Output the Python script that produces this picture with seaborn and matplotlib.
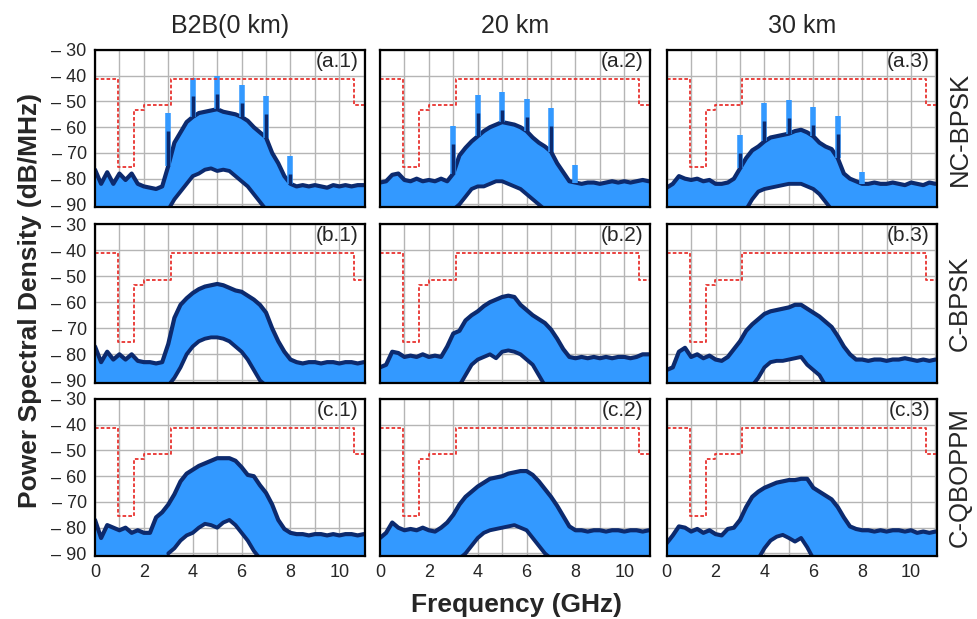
import numpy as np
import matplotlib
matplotlib.use("Agg")
import matplotlib.pyplot as plt
import seaborn as sns

sns.set_style("white")
plt.rcParams['font.family'] = ['Liberation Sans', 'DejaVu Sans']

LIGHT = '#3399ff'
NAVY = '#0c2a6e'
MASK_RED = '#e8332f'
FLOOR = -92

# frequency grid of the traces (GHz), 0.25 GHz steps
FREQ = np.arange(0, 11.01, 0.25)

# FCC indoor UWB mask
MASK_F = [0, 0.96, 1.61, 1.99, 3.1, 10.6, 11.05]
MASK_DB = [-41.3, -75.3, -53.5, -51.5, -41.3, -51.5, -51.5]

# upper envelopes (dB/MHz), one value per FREQ point
A1 = [-76.5, -82, -77.5, -82, -78, -80.5, -78, -82, -83, -83.5, -84, -83,
      -75, -66, -62, -58, -56, -54.5, -54, -53.5, -53, -54, -54.5, -55,
      -56, -57.5, -60, -62, -64, -70, -74, -79, -82, -83, -82.5, -83,
      -82.5, -83, -83.5, -82.5, -83, -82.5, -83, -82.5, -82.5]
A2 = [-81.5, -81, -78.5, -78, -80.5, -81, -80, -81, -80.5, -81, -80, -81,
      -78, -71, -68, -65.5, -63.5, -61.5, -60, -59, -58, -58.5, -59, -60,
      -61.5, -64, -66, -67.5, -69.5, -74, -77.5, -81, -81.5, -82, -81.5, -81.5,
      -82, -81.5, -81, -81.5, -81, -81.5, -81, -80.5, -81]
A3 = [-83.5, -82, -79, -80, -80.5, -80, -81, -80.5, -82, -82, -81.5, -80,
      -76, -72, -69, -67.5, -65.5, -64, -63.5, -63, -62.5, -61.5, -61, -62,
      -63.5, -66, -67.5, -68.5, -72, -78, -80, -81, -82, -82, -81.5, -82,
      -82, -81.5, -82, -82.5, -81.5, -82, -82.5, -81.5, -82]
B1 = [-77, -83, -79, -82, -80, -82, -80, -82.5, -83, -83, -83.5, -83,
      -76, -66, -61, -58.5, -56.5, -55, -54, -53.5, -53, -53.5, -54.5, -55.5,
      -56, -57.5, -59, -61, -64, -70, -75, -79, -82, -83, -83.5, -83,
      -83, -83.5, -83, -83, -83.5, -83, -83, -83.5, -83]
B2 = [-85, -84, -79, -79.5, -81, -80.5, -81, -80, -81, -80.5, -81, -77,
      -72, -71, -67, -65, -63.5, -61.5, -60, -59, -58, -57.5, -58, -61,
      -63, -65, -66.5, -68, -70.5, -74, -78, -81, -81.5, -81, -81.5, -81,
      -81.5, -81, -81.5, -81, -81, -81.5, -81, -80, -80]
B3 = [-86, -85, -79, -77.5, -81, -80, -81.5, -80.5, -82, -82.5, -81, -78,
      -75, -71, -68.5, -66.5, -64.5, -63.5, -63, -62.5, -62, -61, -61, -62.5,
      -64, -65.5, -67.5, -69.5, -73, -77, -80, -82, -82, -82.5, -82, -82,
      -82.5, -82, -82, -81.5, -82, -82.5, -82, -82.5, -82]
C1 = [-77, -84, -79, -80, -81, -80, -82, -81, -82, -82, -76, -74,
      -71, -67, -62, -59, -57.5, -56, -55, -54, -53, -53, -53, -54,
      -56.5, -59.5, -60, -63.5, -66.5, -71, -77, -80.5, -82, -82.5, -82.5, -83,
      -82.5, -82.5, -83, -82.5, -83, -82.5, -82.5, -83, -82.5]
C2 = [-84, -82, -78, -80, -81, -80.5, -81, -80, -81, -81.5, -80, -78,
      -75, -71, -68, -66, -64, -62.5, -61, -60.5, -60, -59, -58.5, -58,
      -58, -59.5, -62, -65, -68, -71.5, -75.5, -79.5, -81, -81, -81.5, -81,
      -81, -81.5, -81, -81, -81.5, -81, -81, -81.5, -81]
C3 = [-86, -83, -79.5, -80, -81.5, -80.5, -82, -81, -82.5, -83, -80.5, -80,
      -77, -72, -68, -66, -64.5, -63.5, -62.5, -62, -61.5, -61.5, -61, -61,
      -64.5, -66, -67.5, -69, -72, -76, -79.5, -80.5, -81, -81, -81.5, -81,
      -81.5, -81, -81, -81.5, -81, -82, -81.5, -82, -81.5]

# lower edge of the trace (white gap below it), 3.0 .. 7.0 GHz
HOLE_START, HOLE_END = 12, 29
A1_LOW = [-92, -88, -85, -82, -79, -78, -76.5, -76, -77, -76.5, -77, -79, -81, -83, -86, -89, -92]
A2_LOW = [-92, -90, -87, -84, -83, -83, -82, -81, -81, -82, -83, -84, -86, -88, -90, -92, -92]
A3_LOW = [-92, -92, -88, -85, -84, -83.5, -83, -82.5, -82, -82, -82, -83, -84, -86, -89, -92, -92]
B1_LOW = [-92, -89, -85, -80, -77, -75, -74, -73.5, -73.5, -74, -75, -77, -79, -82, -86, -90, -92]
B2_LOW = [-92, -92, -88, -84, -82, -81, -80, -81.5, -79, -78.5, -79, -80, -82, -84, -88, -92, -92]
B3_LOW = [-92, -92, -92, -89, -85, -83, -82.5, -82.5, -82, -81.5, -81, -84, -86, -88, -92, -92, -92]
C1_LOW = [-90, -88, -85, -83, -82, -80, -78.5, -79, -80, -78, -77, -79, -82, -85, -89, -92, -92]
C2_LOW = [-92, -92, -90, -87, -84, -82, -81, -80.5, -80, -79.5, -79, -80, -81, -84, -87, -90, -92]
C3_LOW = [-92, -92, -92, -92, -88, -85, -83.5, -82.8, -84, -85.4, -84, -87.6, -92, -92, -92, -92, -92]

# carrier tones of the NC-BPSK signal
SPIKE_F = [3, 4, 5, 6, 7, 8]
A1_SPIKE = [-54.5, -41, -40, -43.5, -48, -71]
A2_SPIKE = [-59.5, -47.5, -46.5, -49, -52.5, -74.5]
A3_SPIKE = [-63, -50.5, -49.5, -52, -55.5, -77.5]

COL_TITLES = ['B2B(0 km)', '20 km', '30 km']
ROW_LABELS = ['NC-BPSK', 'C-BPSK', 'C-QBOPPM']
PANEL_TAGS = [['(a.1)', '(a.2)', '(a.3)'],
              ['(b.1)', '(b.2)', '(b.3)'],
              ['(c.1)', '(c.2)', '(c.3)']]
UPPER = [[A1, A2, A3], [B1, B2, B3], [C1, C2, C3]]
LOWER = [[A1_LOW, A2_LOW, A3_LOW], [B1_LOW, B2_LOW, B3_LOW], [C1_LOW, C2_LOW, C3_LOW]]
SPIKES = [A1_SPIKE, A2_SPIKE, A3_SPIKE]

W, H = 978, 619
col_left = [95, 380, 666.7]
row_top = [50, 224, 399]
row_h = [157, 159, 157]
width = 270

fig = plt.figure(figsize=(W / 100, H / 100), dpi=100)

for r in range(3):
    for c in range(3):
        ax = fig.add_axes([col_left[c] / W, 1 - (row_top[r] + row_h[r]) / H,
                           width / W, row_h[r] / H])
        upper = np.array(UPPER[r][c], dtype=float)
        hole = np.array(LOWER[r][c], dtype=float)
        lower = np.concatenate([[FLOOR] * HOLE_START, hole,
                                [FLOOR] * (len(FREQ) - HOLE_END)])

        ax.fill_between(FREQ, lower, upper, color=LIGHT, lw=0, zorder=2)
        sns.lineplot(x=FREQ, y=upper, color=NAVY, lw=3, ax=ax, zorder=4)
        sns.lineplot(x=FREQ[HOLE_START:HOLE_END], y=hole, color=NAVY,
                     lw=2.8, ax=ax, zorder=4)

        if r == 0:
            peaks = np.array(SPIKES[c])
            base = np.array([upper[int(f * 4)] for f in SPIKE_F])
            ax.vlines(SPIKE_F, base, peaks, color=LIGHT, lw=4, zorder=5)
            core = np.maximum(peaks - 7, base)
            ax.vlines(SPIKE_F, base, core, color=NAVY, lw=2.5, zorder=6)

        ax.plot(MASK_F, MASK_DB, drawstyle='steps-post', color=MASK_RED,
                lw=1.3, ls=(0, (2, 1.2)), zorder=7)

        ax.set_xlim(0, 11.05)
        ax.set_ylim(-91, -30)
        ax.set_xticks(np.arange(0, 12, 1))
        ax.set_yticks(np.arange(-90, -29, 10))
        ax.grid(True, color='#b5b5b5', lw=1.0)
        ax.set_axisbelow(True)
        ax.tick_params(length=0, labelsize=13, pad=6)
        if r == 2:
            ax.set_xticklabels([str(v) if v % 2 == 0 else ''
                                for v in range(12)])
        else:
            ax.set_xticklabels([])
        if c == 0:
            ax.set_yticklabels([f'\u2013 {abs(v)}' for v in range(-90, -29, 10)])
        else:
            ax.set_yticklabels([])
        ax.set_xlabel('')
        ax.set_ylabel('')
        for sp in ax.spines.values():
            sp.set_color('black')
            sp.set_linewidth(1.6)
            sp.set_zorder(10)

        ax.text(0.975, 0.925, PANEL_TAGS[r][c], transform=ax.transAxes,
                ha='right', va='center', fontsize=15, zorder=11)
        if r == 0:
            ax.set_title(COL_TITLES[c], fontsize=18, pad=12)
        if c == 2:
            ax.text(1.086, 0.5, ROW_LABELS[r], transform=ax.transAxes,
                    rotation=90, ha='center', va='center', fontsize=18.5)

fig.text(0.031, 0.515, 'Power Spectral Density (dB/MHz)', rotation=90,
         ha='center', va='center', fontsize=19, fontweight='bold')
fig.text(0.528, 0.022, 'Frequency (GHz)', ha='center', va='center',
         fontsize=19, fontweight='bold')

fig.savefig('out.png', dpi=100)
